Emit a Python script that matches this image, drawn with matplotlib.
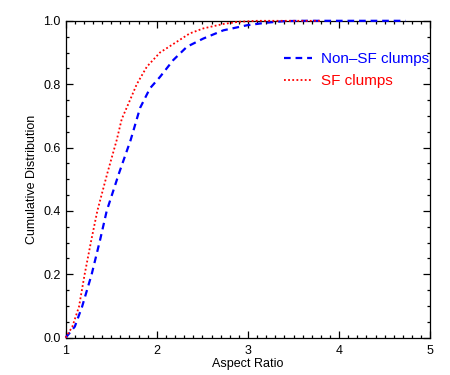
import matplotlib
matplotlib.use('Agg')
import matplotlib.pyplot as plt
from matplotlib.ticker import MultipleLocator

plt.rcParams['font.family'] = ['Liberation Sans', 'DejaVu Sans']

# aspect ratio CDFs
nonsf_x = [1.0, 1.10, 1.18, 1.285, 1.377, 1.45, 1.585, 1.713, 1.816,
           1.925, 2.035, 2.18, 2.33, 2.51, 2.73, 2.99, 3.2, 3.4, 3.6, 4.0, 4.4, 4.73]
nonsf_y = [0.0, 0.035, 0.098, 0.2, 0.308, 0.40, 0.519, 0.624, 0.725,
           0.787, 0.823, 0.876, 0.918, 0.944, 0.97, 0.986, 0.994, 0.999, 1.0, 1.0, 1.0, 1.0]

sf_x = [1.0, 1.073, 1.146, 1.208, 1.281, 1.347, 1.457, 1.56, 1.615, 1.706,
        1.78, 1.89, 2.035, 2.22, 2.36, 2.51, 2.73, 2.9, 3.1, 3.5, 3.8]
sf_y = [0.0, 0.035, 0.098, 0.2, 0.308, 0.40, 0.519, 0.624, 0.69, 0.75,
        0.80, 0.855, 0.90, 0.934, 0.96, 0.976, 0.99, 0.997, 1.0, 1.0, 1.0]

fig = plt.figure(figsize=(4.5, 3.75), dpi=100)
ax = fig.add_axes([0.146, 0.0995, 0.81, 0.845])

ax.plot(nonsf_x, nonsf_y, color='blue', linewidth=1.6, linestyle=(0, (3, 2.2)),
        label='Non\u2013SF clumps', clip_on=False, zorder=3)
ax.plot(sf_x, sf_y, color='red', linewidth=1.3, linestyle=(0, (1, 1.3)),
        label='SF clumps', clip_on=False, zorder=3)

ax.set_xlim(1, 5)
ax.set_ylim(0, 1.0)
ax.xaxis.set_major_locator(MultipleLocator(1))
ax.xaxis.set_minor_locator(MultipleLocator(0.1))
ax.yaxis.set_major_locator(MultipleLocator(0.2))
ax.yaxis.set_minor_locator(MultipleLocator(0.05))
ax.xaxis.set_major_formatter(matplotlib.ticker.FormatStrFormatter('%d'))
ax.yaxis.set_major_formatter(matplotlib.ticker.FormatStrFormatter('%.1f'))

ax.tick_params(which='both', direction='in', top=True, right=True, labelsize=9,
               width=0.9, colors='black')
ax.tick_params(which='major', length=5)
ax.tick_params(which='minor', length=2.5)
ax.tick_params(axis='x', pad=5)
for s in ax.spines.values():
    s.set_linewidth(0.9)

ax.set_xlabel('Aspect Ratio', fontsize=9, labelpad=1)
ax.set_ylabel('Cumulative Distribution', fontsize=9, labelpad=4)

ax.legend(loc='upper left', bbox_to_anchor=(0.599, 0.902), frameon=False,
          fontsize=11, handlelength=1.85, handletextpad=0.6, labelspacing=0.56,
          borderpad=0, borderaxespad=0, labelcolor='linecolor')

fig.savefig('out.png', dpi=100)
